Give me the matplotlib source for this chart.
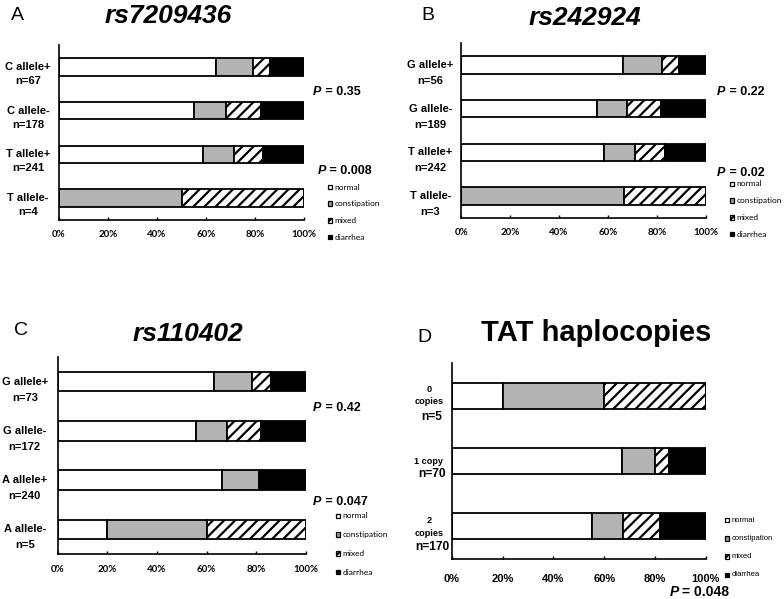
import matplotlib
matplotlib.use('Agg')
import matplotlib.pyplot as plt
from matplotlib.patches import Rectangle

W, H = 784, 599
plt.rcParams['font.family'] = 'Liberation Sans'
plt.rcParams['hatch.linewidth'] = 1.6

GRAY = '#b3b3b3'
categories = ['normal', 'constipation', 'mixed', 'diarrhea']

# panel A: rs7209436
labels_a = ['C allele+\nn=67', 'C allele-\nn=178', 'T allele+\nn=241', 'T allele-\nn=4']
normal_a = [64.2, 55.3, 58.9, 0]
constip_a = [14.8, 12.8, 12.4, 50]
mixed_a = [7.2, 14.2, 11.8, 50]
diarrhea_a = [13.8, 17.7, 16.9, 0]
pvals_a = ['0.35', '0.008']

# panel B: rs242924
labels_b = ['G allele+\nn=56', 'G allele-\nn=189', 'T allele+\nn=242', 'T allele-\nn=3']
normal_b = [66.2, 55.7, 58.5, 0]
constip_b = [15.9, 12.1, 12.6, 66.7]
mixed_b = [7.0, 14.1, 12.1, 33.3]
diarrhea_b = [10.9, 18.1, 16.8, 0]
pvals_b = ['0.22', '0.02']

# panel C: rs110402
labels_c = ['G allele+\nn=73', 'G allele-\nn=172', 'A allele+\nn=240', 'A allele-\nn=5']
normal_c = [63.1, 55.8, 66.2, 20]
constip_c = [15.0, 12.3, 15.0, 40]
mixed_c = [7.9, 13.9, 0, 40]
diarrhea_c = [14.0, 18.0, 18.8, 0]
pvals_c = ['0.42', '0.047']

# panel D: TAT haplocopies
labels_d = ['0\ncopies\nn=5', '1 copy\nn=70', '2\ncopies\nn=170']
normal_d = [20, 67.0, 55.2]
constip_d = [40, 13.0, 12.3]
mixed_d = [40, 5.4, 14.6]
diarrhea_d = [0, 14.6, 17.9]
pvals_d = ['0.048']

xticks = [0, 20, 40, 60, 80, 100]
xticklabels = ['0%', '20%', '40%', '60%', '80%', '100%']

STY = [dict(fc='white', hatch=None), dict(fc=GRAY, hatch=None),
       dict(fc='white', hatch='///'), dict(fc='black', hatch=None)]

fig = plt.figure(figsize=(W/100, H/100), dpi=100)

def px_axes(l, t, r, b):
    return fig.add_axes([l/W, 1-b/H, (r-l)/W, (b-t)/H])

def panel(ax, series, tickfont, ticksize, pad):
    n = len(series[0])
    ypos = list(range(n))
    left = [0]*n
    for vals, st in zip(series, STY):
        ax.barh(ypos, vals, left=left, height=0.4, color=st['fc'], hatch=st['hatch'],
                edgecolor='black', linewidth=1.3, zorder=2)
        left = [a+b for a, b in zip(left, vals)]
    ax.set_xlim(0, 100)
    ax.set_ylim(n-0.5, -0.5)
    ax.set_yticks([])
    ax.set_xticks(xticks)
    ax.set_xticklabels(xticklabels, fontfamily=tickfont, fontweight='bold', fontsize=ticksize)
    ax.tick_params(axis='x', direction='in', length=2.5, width=1, pad=pad)
    for s in ['top', 'right']:
        ax.spines[s].set_visible(False)
    for s in ['left', 'bottom']:
        ax.spines[s].set_linewidth(1.2)
    return ypos

def ylabels(ax, labels, dx, dy2):
    for i, lab in enumerate(labels):
        l1, l2 = lab.split('\n')
        for txt, dy in ((l1, 0), (l2, dy2)):
            ax.annotate(txt, xy=(0, i), xycoords=('axes fraction', 'data'),
                        xytext=(dx, dy), textcoords='offset pixels', ha='center', va='center',
                        fontsize=8, fontweight='bold')

def ptext(x, y, val, size=9):
    fig.text(x/W, 1-y/H, 'P', fontsize=size, fontweight='bold', fontstyle='italic', va='center')
    fig.text((x+8.5)/W, 1-y/H, ' = ' + val, fontsize=size, fontweight='bold', va='center')

def legend(x, y0, step, font, size):
    for k, (cat, st) in enumerate(zip(categories, STY)):
        y = y0 + k*step
        fig.add_artist(Rectangle(((x)/W, 1-(y+2.3)/H), 4.6/W, 4.6/H, transform=fig.transFigure,
                                 facecolor=st['fc'] if st['fc'] != GRAY else '#999999',
                                 hatch='////' if st['hatch'] else None, edgecolor='black', lw=0.9))
        fig.text((x+7)/W, 1-y/H, cat, fontsize=size, fontfamily=font, va='center')

def title(x, y, letter, lx, ly, txt, italic=True, size=19):
    fig.text(x/W, 1-y/H, txt, fontsize=size, fontweight='bold',
             fontstyle='italic' if italic else 'normal', ha='center', va='baseline')
    fig.text(lx/W, 1-ly/H, letter, fontsize=14, ha='left', va='baseline')

# A
axA = px_axes(59, 45, 304, 220)
panel(axA, [normal_a, constip_a, mixed_a, diarrhea_a], 'Lato', 7, 7)
ylabels(axA, labels_a, -31, -14)
ptext(313, 92, pvals_a[0]); ptext(318, 171, pvals_a[1])
legend(327.5, 187, 16.7, 'Lato', 6)
title(168.5, 23, 'A', 11, 20, 'rs7209436')

# B
axB = px_axes(461.3, 43, 705.7, 218)
panel(axB, [normal_b, constip_b, mixed_b, diarrhea_b], 'Lato', 7, 7)
ylabels(axB, labels_b, -31, -16)
ptext(717, 92, pvals_b[0]); ptext(717, 173, pvals_b[1])
legend(729.5, 184, 16.7, 'Lato', 6)
title(585, 25, 'B', 421, 20, 'rs242924')

# C
axC = px_axes(57.7, 357, 306, 554)
panel(axC, [normal_c, constip_c, mixed_c, diarrhea_c], 'Lato', 7, 8)
ylabels(axC, labels_c, -33, -16)
ptext(313, 408, pvals_c[0]); ptext(313, 502, pvals_c[1])
legend(335.5, 516, 18.7, 'Lato', 6)
title(187.5, 341, 'C', 14, 335, 'rs110402')

# D
axD = px_axes(452, 363, 705.7, 559)
panel(axD, [normal_d, constip_d, mixed_d, diarrhea_d], 'Liberation Sans', 8, 11)
d_offsets = [(6, -6, -21), (-1, -13), (6, -7, -21)]
for i, (lab, offs) in enumerate(zip(labels_d, d_offsets)):
    lines = lab.split('\n')
    for j, (txt, dy) in enumerate(zip(lines, offs)):
        last = j == len(lines) - 1
        axD.annotate(txt, xy=(0, i), xycoords=('axes fraction', 'data'),
                     xytext=(-20 if last else -23, dy), textcoords='offset pixels',
                     ha='center', va='center', fontsize=8.6 if last else 6.6, fontweight='bold')
ptext(670, 592, pvals_d[0], 10)
legend(724.5, 520, 18.3, 'Liberation Sans', 5.5)
title(596, 341, 'D', 417, 342, 'TAT haplocopies', italic=False, size=21)

fig.savefig('out.png', dpi=100, facecolor='white')
